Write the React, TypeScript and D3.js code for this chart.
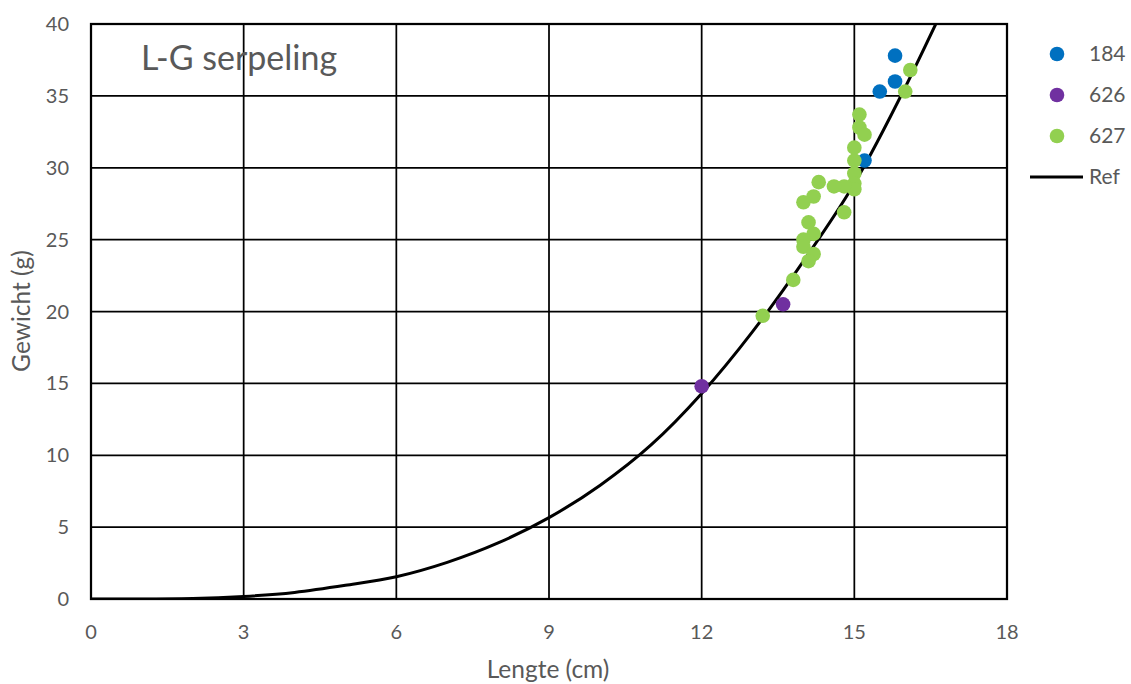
import React from "react";
import * as d3 from "d3";

// Axis ticks
const xTicks = [0, 3, 6, 9, 12, 15, 18];
const yTicks = [0, 5, 10, 15, 20, 25, 30, 35, 40];

// Series 184
const len184 = [15.8, 15.8, 15.5, 15.2];
const w184 = [37.8, 36.0, 35.3, 30.5];

// Series 626
const len626 = [12.0, 13.6];
const w626 = [14.8, 20.5];

// Series 627
const len627 = [
  16.1, 16.0, 15.1, 15.1, 15.2, 15.0, 15.0, 15.0, 15.0, 15.0, 14.8, 14.6,
  14.3, 14.2, 14.0, 14.8, 14.1, 14.2, 14.0, 14.0, 14.2, 14.1, 13.8, 13.2,
];
const w627 = [
  36.8, 35.3, 33.7, 32.8, 32.3, 31.4, 30.5, 29.6, 28.9, 28.5, 28.7, 28.7,
  29.0, 28.0, 27.6, 26.9, 26.2, 25.4, 25.0, 24.5, 24.0, 23.5, 22.2, 19.7,
];

// Reference length-weight curve
const refLen = [0, 1, 2, 3, 4, 5, 6, 7, 8, 9, 10, 11, 12, 13, 14, 15, 16, 16.6, 16.8];
const refW = [0, 0.005, 0.04, 0.18, 0.46, 0.95, 1.55, 2.55, 3.9, 5.66, 7.9, 10.7, 14.3, 18.6, 23.5, 28.9, 35.6, 40, 41.5];

const series = [
  { name: "184", color: "#0070C0", len: len184, w: w184 },
  { name: "626", color: "#7030A0", len: len626, w: w626 },
  { name: "627", color: "#92D050", len: len627, w: w627 },
];

const W = 1131;
const H = 684;
const left = 91;
const right = 1007;
const top = 24;
const bottom = 599;

const FONT = "Lato, 'Open Sans', sans-serif";
const GREY = "#595959";

export default function App() {
  const x = d3.scaleLinear().domain([0, 18]).range([left, right]);
  const y = d3.scaleLinear().domain([0, 40]).range([bottom, top]);

  const line = d3
    .line<number>()
    .x((_, i) => x(refLen[i]))
    .y((d) => y(d))
    .curve(d3.curveMonotoneX);

  return (
    <svg
      width={W}
      height={H}
      style={{ position: "absolute", left: 0, top: 0, background: "#fff" }}
      fontFamily={FONT}
    >
      <defs>
        <clipPath id="plot">
          <rect x={left} y={top} width={right - left} height={bottom - top} />
        </clipPath>
      </defs>

      {/* grid */}
      {yTicks.map((t) => (
        <line key={"gy" + t} x1={left} x2={right} y1={y(t)} y2={y(t)} stroke="#000" strokeWidth={1.75} />
      ))}
      {xTicks.map((t) => (
        <line key={"gx" + t} x1={x(t)} x2={x(t)} y1={top} y2={bottom} stroke="#000" strokeWidth={1.75} />
      ))}
      <rect x={left} y={top} width={right - left} height={bottom - top} fill="none" stroke="#000" strokeWidth={2.25} />

      {/* tick labels */}
      {yTicks.map((t) => (
        <text key={"ty" + t} x={69} y={y(t) + 7} textAnchor="end" fontSize={20} fill={GREY}>
          {t}
        </text>
      ))}
      {xTicks.map((t) => (
        <text key={"tx" + t} x={x(t)} y={639} textAnchor="middle" fontSize={20} fill={GREY}>
          {t}
        </text>
      ))}

      {/* axis titles */}
      <text x={548} y={678} textAnchor="middle" fontSize={24.5} fill={GREY}>
        Lengte (cm)
      </text>
      <text transform="translate(30,311) rotate(-90)" textAnchor="middle" fontSize={24.5} fill={GREY}>
        Gewicht (g)
      </text>

      {/* chart title */}
      <text x={141} y={70} fontSize={34} fill={GREY}>
        L-G serpeling
      </text>

      {/* reference curve */}
      <path d={line(refW) || ""} fill="none" stroke="#000" strokeWidth={3} clipPath="url(#plot)" />

      {/* scatter points */}
      {series.map((s) =>
        s.len.map((l, i) => (
          <circle key={s.name + i} cx={x(l)} cy={y(s.w[i])} r={7.3} fill={s.color} />
        ))
      )}

      {/* legend */}
      {series.map((s, i) => (
        <g key={"lg" + s.name}>
          <circle cx={1057} cy={54 + i * 41} r={7.3} fill={s.color} />
          <text x={1089} y={61 + i * 41} fontSize={21} fill={GREY}>
            {s.name}
          </text>
        </g>
      ))}
      <line x1={1030} x2={1083} y1={177} y2={177} stroke="#000" strokeWidth={3} />
      <text x={1089} y={184} fontSize={21} fill={GREY}>
        Ref
      </text>
    </svg>
  );
}
